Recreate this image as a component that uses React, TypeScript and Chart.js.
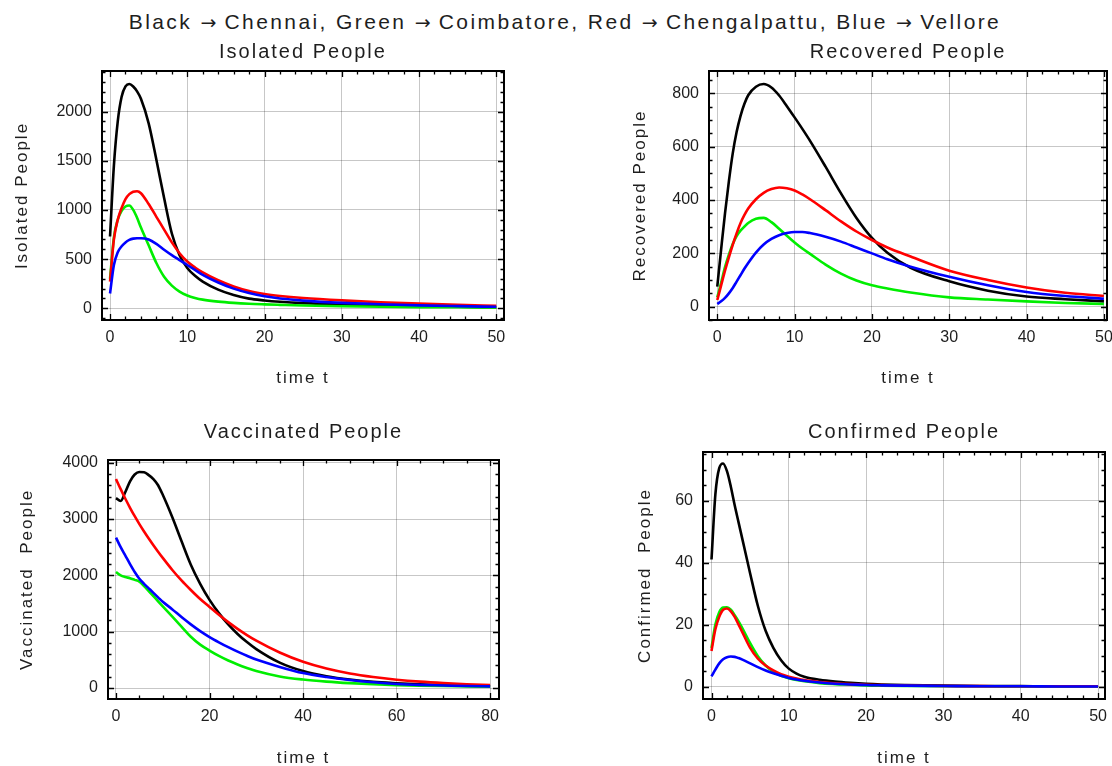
import React, { useEffect, useRef } from "react";
import { Chart, registerables } from "chart.js";

Chart.register(...registerables);

// ---------------- DATA ----------------
const TITLE_PAIRS = [
  ["Black", "Chennai"],
  ["Green", "Coimbatore"],
  ["Red", "Chengalpattu"],
  ["Blue", "Vellore"],
];
const SERIES_NAMES = ["Chennai", "Coimbatore", "Chengalpattu", "Vellore"]; // black, green, red, blue

const T50 = [0, 0.5, 1, 1.5, 2, 2.5, 3, 3.5, 4, 5, 6, 7, 8, 9, 10, 11, 12, 14, 16, 18, 20, 22, 25, 30, 35, 40, 45, 50];
const T80 = [0, 1, 2, 3, 4, 5, 6, 7, 8, 9, 10, 12, 14, 16, 18, 20, 22, 24, 26, 28, 30, 35, 40, 45, 50, 55, 60, 65, 70, 75, 80];

// Isolated People
const ISO_BLACK = [730, 1450, 1900, 2150, 2255, 2280, 2255, 2205, 2130, 1880, 1510, 1120, 760, 540, 410, 330, 272, 190, 135, 98, 80, 67, 53, 38, 28, 21, 15, 11];
const ISO_GREEN = [300, 720, 900, 990, 1035, 1045, 1000, 920, 820, 640, 460, 320, 230, 170, 130, 105, 88, 68, 55, 46, 40, 35, 28, 20, 15, 12, 10, 8];
const ISO_RED = [270, 700, 900, 1020, 1110, 1160, 1185, 1190, 1170, 1060, 930, 800, 670, 560, 475, 415, 365, 285, 222, 175, 145, 125, 104, 80, 62, 47, 35, 26];
const ISO_BLUE = [150, 440, 570, 630, 670, 695, 708, 712, 712, 700, 655, 595, 540, 490, 440, 390, 340, 262, 200, 155, 122, 100, 78, 55, 41, 30, 22, 15];

// Recovered People
const REC_BLACK = [75, 215, 350, 470, 575, 655, 715, 760, 793, 825, 835, 822, 792, 752, 710, 667, 622, 525, 425, 333, 258, 202, 146, 95, 60, 38, 28, 20];
const REC_GREEN = [35, 90, 148, 195, 235, 265, 285, 300, 314, 330, 333, 317, 292, 266, 241, 218, 198, 158, 124, 98, 80, 68, 53, 35, 27, 20, 14, 10];
const REC_RED = [25, 80, 135, 185, 232, 275, 313, 343, 368, 403, 427, 441, 447, 444, 436, 421, 403, 362, 320, 282, 250, 222, 188, 135, 100, 72, 52, 40];
const REC_BLUE = [10, 20, 33, 50, 70, 94, 118, 142, 164, 203, 233, 254, 268, 276, 280, 280, 276, 262, 244, 222, 200, 178, 150, 112, 80, 55, 40, 30];

// Vaccinated People
const VAC_BLACK = [3370, 3320, 3480, 3670, 3790, 3835, 3830, 3780, 3710, 3600, 3430, 3040, 2610, 2190, 1850, 1565, 1330, 1130, 960, 815, 690, 450, 300, 210, 150, 110, 85, 65, 50, 40, 30];
const VAC_GREEN = [2060, 2000, 1970, 1950, 1920, 1890, 1810, 1720, 1630, 1540, 1450, 1270, 1090, 910, 770, 665, 570, 488, 418, 356, 300, 205, 150, 113, 86, 66, 52, 42, 35, 30, 25];
const VAC_RED = [3710, 3530, 3360, 3200, 3050, 2910, 2780, 2655, 2535, 2420, 2310, 2100, 1910, 1740, 1580, 1440, 1300, 1170, 1050, 940, 840, 630, 465, 345, 258, 195, 148, 113, 87, 67, 52];
const VAC_BLUE = [2670, 2500, 2350, 2200, 2060, 1940, 1850, 1770, 1690, 1610, 1530, 1400, 1260, 1130, 1010, 905, 812, 725, 645, 572, 505, 375, 265, 195, 142, 102, 72, 55, 45, 35, 30];

// Confirmed People
const CON_BLACK = [41, 62, 70.5, 72, 69.5, 64.5, 58.5, 53, 47.5, 36.5, 26, 18, 12.5, 8.5, 5.8, 4.2, 3.2, 2.2, 1.6, 1.2, 0.9, 0.7, 0.5, 0.3, 0.2, 0.15, 0.1, 0.1];
const CON_GREEN = [12.5, 20, 24, 25.5, 25.6, 24.8, 23, 21, 18.8, 14, 9.8, 6.8, 4.8, 3.5, 2.7, 2.1, 1.7, 1.1, 0.8, 0.6, 0.4, 0.3, 0.2, 0.1, 0.1, 0.05, 0.05, 0.05];
const CON_RED = [11.5, 18.5, 22.5, 24.8, 25.2, 24.3, 22.5, 20, 17.5, 12.5, 9, 6.8, 5.2, 4, 3.2, 2.6, 2.1, 1.5, 1.1, 0.8, 0.6, 0.5, 0.35, 0.2, 0.15, 0.1, 0.1, 0.1];
const CON_BLUE = [3.3, 5.5, 7.5, 8.8, 9.5, 9.7, 9.6, 9.2, 8.7, 7.5, 6.3, 5.2, 4.3, 3.5, 2.8, 2.3, 1.9, 1.3, 0.9, 0.7, 0.5, 0.4, 0.3, 0.2, 0.1, 0.1, 0.05, 0.05];

// Tick labels
const X_TICKS_50 = [0, 10, 20, 30, 40, 50];
const X_TICKS_80 = [0, 20, 40, 60, 80];
const Y_TICKS_ISO = [0, 500, 1000, 1500, 2000];
const Y_TICKS_REC = [0, 200, 400, 600, 800];
const Y_TICKS_VAC = [0, 1000, 2000, 3000, 4000];
const Y_TICKS_CON = [0, 20, 40, 60];

// ---------------- STYLE / LAYOUT ----------------
const FONT = '"Liberation Sans", Arial, Helvetica, sans-serif';
const ARROW_FONT = '"DejaVu Sans", sans-serif';
const TEXT = "#1e1e1e";
const COLORS = ["#000000", "#00ee00", "#ff0000", "#0000ff"];
const DRAW_ORDER = [3, 2, 1, 0]; // blue on top, black underneath
const GRID = "rgba(0,0,0,0.22)";

type PanelCfg = {
  title: string; yTitle: string; xTitle: string;
  t: number[]; series: number[][];
  xTicks: number[]; yTicks: number[];
  xMin: number; xMax: number; yMin: number; yMax: number;
  xMinor: number; yMinor: number;
  box: { x: number; y: number; w: number; h: number };
  area: { l: number; t: number; r: number; b: number };
  titleY: number; yTitleX: number; xTitleY: number;
};

const PANELS: PanelCfg[] = [
  {
    title: "Isolated People", yTitle: "Isolated People", xTitle: "time t",
    t: T50, series: [ISO_BLACK, ISO_GREEN, ISO_RED, ISO_BLUE],
    xTicks: X_TICKS_50, yTicks: Y_TICKS_ISO,
    xMin: -1.04, xMax: 51, yMin: -119, yMax: 2412, xMinor: 2, yMinor: 100,
    box: { x: 0, y: 36, w: 556, h: 354 }, area: { l: 102, t: 71, r: 504, b: 320 },
    titleY: 52, yTitleX: 22, xTitleY: 378,
  },
  {
    title: "Recovered People", yTitle: "Recovered People", xTitle: "time t",
    t: T50, series: [REC_BLACK, REC_GREEN, REC_RED, REC_BLUE],
    xTicks: X_TICKS_50, yTicks: Y_TICKS_REC,
    xMin: -1.07, xMax: 50.4, yMin: -50, yMax: 884, xMinor: 2, yMinor: 50,
    box: { x: 556, y: 36, w: 574, h: 354 }, area: { l: 709, t: 71, r: 1107, b: 320 },
    titleY: 52, yTitleX: 640, xTitleY: 378,
  },
  {
    title: "Vaccinated People", yTitle: "Vaccinated  People", xTitle: "time t",
    t: T80, series: [VAC_BLACK, VAC_GREEN, VAC_RED, VAC_BLUE],
    xTicks: X_TICKS_80, yTicks: Y_TICKS_VAC,
    xMin: -1.71, xMax: 81.9, yMin: -195, yMax: 4048, xMinor: 5, yMinor: 200,
    box: { x: 0, y: 414, w: 556, h: 360 }, area: { l: 108, t: 460, r: 499, b: 699 },
    titleY: 432, yTitleX: 27, xTitleY: 758,
  },
  {
    title: "Confirmed People", yTitle: "Confirmed  People", xTitle: "time t",
    t: T50, series: [CON_BLACK, CON_GREEN, CON_RED, CON_BLUE],
    xTicks: X_TICKS_50, yTicks: Y_TICKS_CON,
    xMin: -1.1, xMax: 50.9, yMin: -4, yMax: 75.7, xMinor: 2, yMinor: 5,
    box: { x: 556, y: 414, w: 574, h: 360 }, area: { l: 703, t: 452, r: 1105, b: 699 },
    titleY: 432, yTitleX: 645, xTitleY: 758,
  },
];

// letter spacing for titles (drawn before datasets), none for tick labels (z: 1, after datasets)
const spacingPlugin = {
  id: "titleSpacing",
  beforeDraw(chart: any) { chart.ctx.letterSpacing = "2px"; },
  beforeDatasetsDraw(chart: any) { chart.ctx.letterSpacing = "0px"; },
};

function makeFramePlugin(p: PanelCfg) {
  return {
    id: "frameTicks",
    afterDraw(chart: any) {
      const { ctx, chartArea: a, scales } = chart;
      const xs = scales.x, ys = scales.y;
      ctx.save();
      ctx.strokeStyle = "#000";
      ctx.lineWidth = 1.3;
      ctx.beginPath();
      const xStart = Math.ceil(p.xMin / p.xMinor) * p.xMinor;
      for (let v = xStart; v <= p.xMax + 1e-9; v += p.xMinor) {
        const major = p.xTicks.some((m) => Math.abs(m - v) < 1e-6);
        const len = major ? 6 : 3.5;
        const px = Math.round(xs.getPixelForValue(v)) + 0.5;
        ctx.moveTo(px, a.bottom); ctx.lineTo(px, a.bottom - len);
        ctx.moveTo(px, a.top); ctx.lineTo(px, a.top + len);
      }
      const yStart = Math.ceil(p.yMin / p.yMinor) * p.yMinor;
      for (let v = yStart; v <= p.yMax + 1e-9; v += p.yMinor) {
        const major = p.yTicks.some((m) => Math.abs(m - v) < 1e-6);
        const len = major ? 6 : 3.5;
        const py = Math.round(ys.getPixelForValue(v)) + 0.5;
        ctx.moveTo(a.left, py); ctx.lineTo(a.left + len, py);
        ctx.moveTo(a.right, py); ctx.lineTo(a.right - len, py);
      }
      ctx.stroke();
      ctx.lineWidth = 2;
      ctx.strokeRect(a.left, a.top, a.right - a.left, a.bottom - a.top);
      ctx.restore();
    },
  };
}

function buildConfig(p: PanelCfg): any {
  const { box, area } = p;
  const titleLH = 20 * 1.2;
  const axisLH = 17 * 1.2;
  const titlePadTop = p.titleY - box.y - titleLH / 2;
  const titlePadBottom = area.t - box.y - titlePadTop - titleLH;
  const yTitlePad = p.yTitleX - box.x - axisLH / 2;
  const xTitlePad = box.y + box.h - p.xTitleY - axisLH / 2;
  const yAxisW = area.l - box.x;
  const xAxisH = box.y + box.h - area.b;
  const tickFont = { family: FONT, size: 16 };
  return {
    type: "line",
    data: {
      datasets: p.series.map((s, i) => ({
        label: SERIES_NAMES[i],
        data: p.t.map((t, j) => ({ x: t, y: s[j] })),
        borderColor: COLORS[i],
        backgroundColor: COLORS[i],
        borderWidth: 2.6,
        pointRadius: 0,
        fill: false,
        cubicInterpolationMode: "monotone",
        order: DRAW_ORDER[i],
      })),
    },
    options: {
      responsive: false,
      animation: false,
      devicePixelRatio: 1,
      events: [],
      layout: { padding: { left: 0, top: 0, bottom: 0, right: box.x + box.w - area.r } },
      plugins: {
        legend: { display: false },
        tooltip: { enabled: false },
        title: {
          display: true,
          text: p.title,
          fullSize: false,
          color: TEXT,
          font: { family: FONT, size: 20, weight: "normal" },
          padding: { top: titlePadTop, bottom: titlePadBottom },
        },
      },
      scales: {
        x: {
          type: "linear",
          min: p.xMin,
          max: p.xMax,
          afterFit: (s: any) => { s.height = xAxisH; },
          afterBuildTicks: (s: any) => { s.ticks = p.xTicks.map((v) => ({ value: v })); },
          grid: { color: GRID, lineWidth: 1, drawTicks: false },
          border: { display: false },
          ticks: { padding: 8, color: TEXT, font: tickFont, z: 1, autoSkip: false, maxRotation: 0, callback: (v: any) => String(v) },
          title: { display: true, text: p.xTitle, color: TEXT, font: { family: FONT, size: 17 }, padding: { top: 0, bottom: xTitlePad } },
        },
        y: {
          type: "linear",
          min: p.yMin,
          max: p.yMax,
          afterFit: (s: any) => { s.width = yAxisW; },
          afterBuildTicks: (s: any) => { s.ticks = p.yTicks.map((v) => ({ value: v })); },
          grid: { color: GRID, lineWidth: 1, drawTicks: false },
          border: { display: false },
          ticks: { padding: 10, color: TEXT, font: tickFont, z: 1, autoSkip: false, callback: (v: any) => String(v) },
          title: { display: true, text: p.yTitle, color: TEXT, font: { family: FONT, size: 17 }, padding: { top: yTitlePad, bottom: 0 } },
        },
      },
    },
    plugins: [spacingPlugin, makeFramePlugin(p)],
  };
}

function Panel({ cfg }: { cfg: PanelCfg }) {
  const ref = useRef<HTMLCanvasElement | null>(null);
  useEffect(() => {
    if (!ref.current) return;
    const chart = new Chart(ref.current, buildConfig(cfg));
    return () => chart.destroy();
  }, [cfg]);
  return (
    <canvas
      ref={ref}
      width={cfg.box.w}
      height={cfg.box.h}
      style={{ position: "absolute", left: cfg.box.x, top: cfg.box.y, width: cfg.box.w, height: cfg.box.h, display: "block" }}
    />
  );
}

export default function App() {
  return (
    <div style={{ position: "absolute", left: 0, top: 0, width: 1112, height: 766, overflow: "hidden", background: "#fff" }}>
      <div
        style={{
          position: "absolute", left: 0, top: 10, width: 1130, textAlign: "center",
          fontFamily: FONT, fontSize: 21, lineHeight: "24px", letterSpacing: "2.4px", color: TEXT, whiteSpace: "pre",
        }}
      >
        {TITLE_PAIRS.map(([c, name], i) => (
          <span key={i}>
            {c + " "}
            <span style={{ fontFamily: ARROW_FONT, fontSize: 19, letterSpacing: 0 }}>→</span>
            {" " + name + (i < TITLE_PAIRS.length - 1 ? ", " : "")}
          </span>
        ))}
      </div>
      {PANELS.map((p, i) => (
        <Panel key={i} cfg={p} />
      ))}
    </div>
  );
}
